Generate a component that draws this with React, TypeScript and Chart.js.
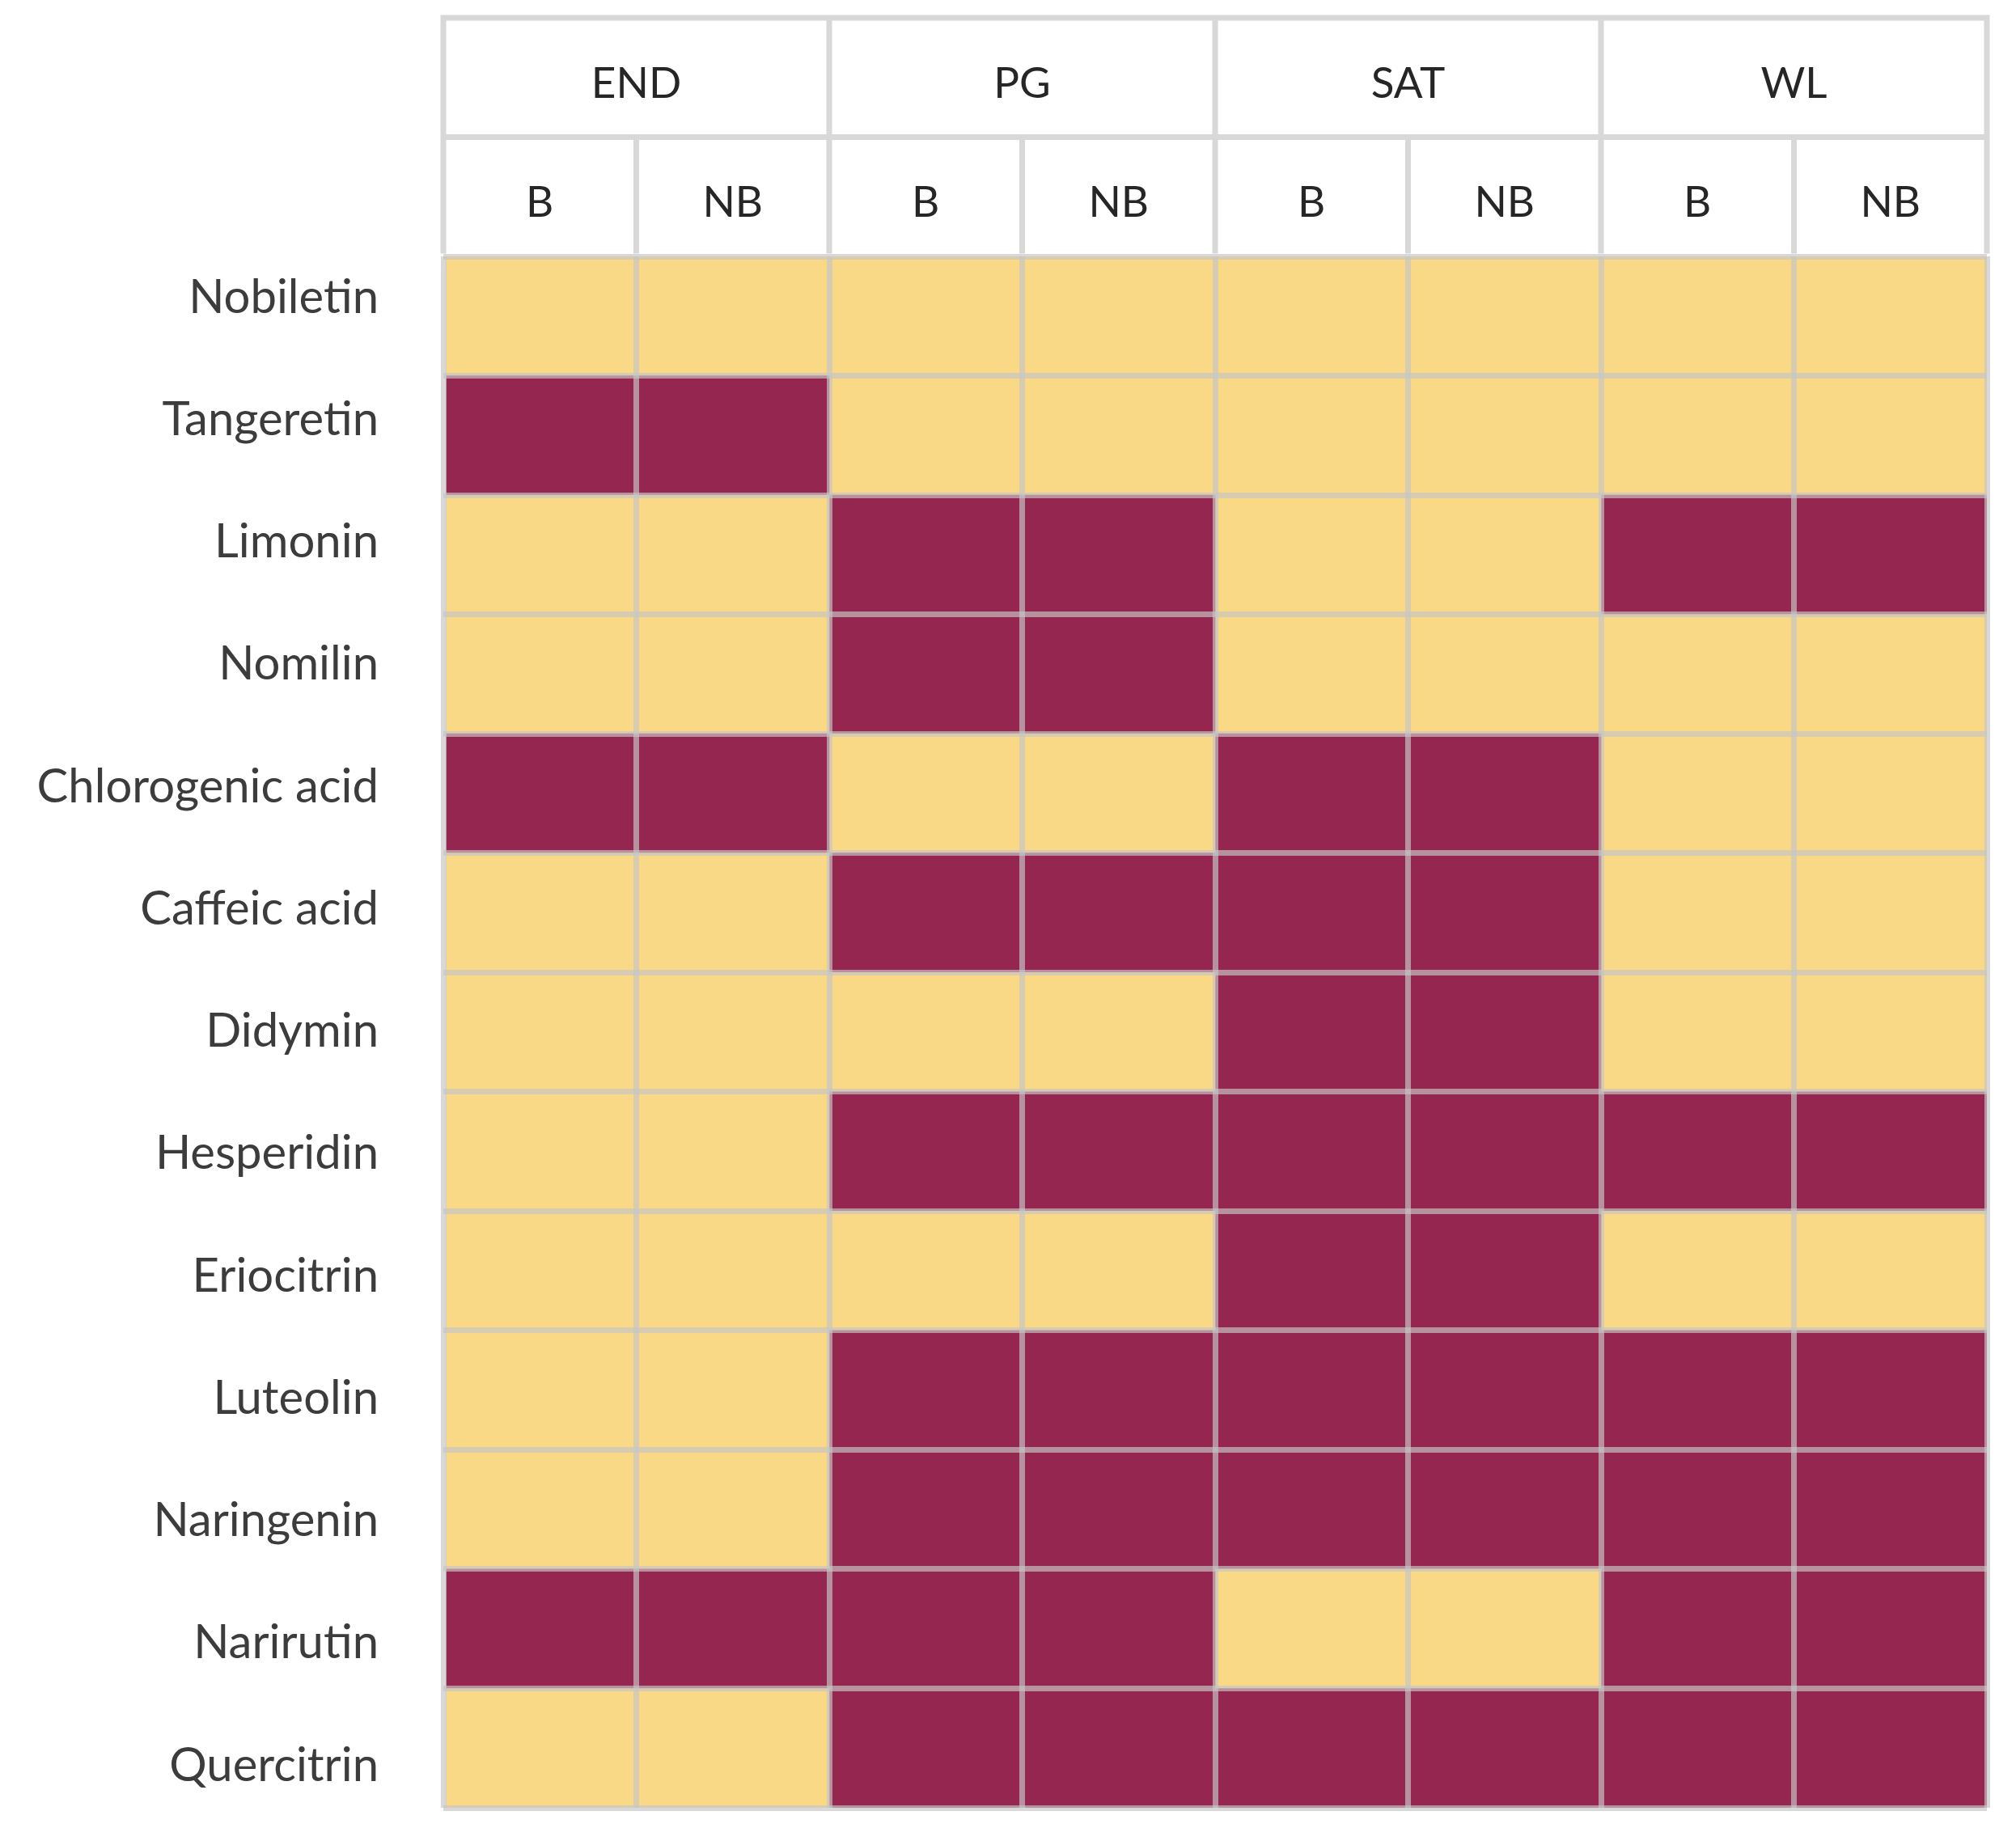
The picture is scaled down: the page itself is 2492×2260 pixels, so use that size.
import React, { useEffect, useRef } from "react";
import { Chart, registerables } from "chart.js";

Chart.register(...registerables);

// ---- data ----
const compounds = [
  "Nobiletin",
  "Tangeretin",
  "Limonin",
  "Nomilin",
  "Chlorogenic acid",
  "Caffeic acid",
  "Didymin",
  "Hesperidin",
  "Eriocitrin",
  "Luteolin",
  "Naringenin",
  "Narirutin",
  "Quercitrin",
];
const groups = ["END", "PG", "SAT", "WL"];
const subgroups = ["B", "NB"];

// 1 = present (dark cell), 0 = absent (light cell); one entry per compound
const END_B = [0, 1, 0, 0, 1, 0, 0, 0, 0, 0, 0, 1, 0];
const END_NB = [0, 1, 0, 0, 1, 0, 0, 0, 0, 0, 0, 1, 0];
const PG_B = [0, 0, 1, 1, 0, 1, 0, 1, 0, 1, 1, 1, 1];
const PG_NB = [0, 0, 1, 1, 0, 1, 0, 1, 0, 1, 1, 1, 1];
const SAT_B = [0, 0, 0, 0, 1, 1, 1, 1, 1, 1, 1, 0, 1];
const SAT_NB = [0, 0, 0, 0, 1, 1, 1, 1, 1, 1, 1, 0, 1];
const WL_B = [0, 0, 1, 0, 0, 0, 0, 1, 0, 1, 1, 1, 1];
const WL_NB = [0, 0, 1, 0, 0, 0, 0, 1, 0, 1, 1, 1, 1];

const columnValues = [END_B, END_NB, PG_B, PG_NB, SAT_B, SAT_NB, WL_B, WL_NB];

// ---- styles ----
const LIGHT = "#FAD986";
const DARK = "#95264F";
const GRID = "rgba(198,198,198,0.68)";
const GRID_W = 7;
const FONT = "Lato, 'Open Sans', sans-serif";
// label axis range (the row labels in the original sit on a slightly wider pitch than the cells)
const LABEL_AXIS_MIN = -0.337;
const LABEL_AXIS_MAX = 12.344;

const headerPlugin = {
  id: "matrixHeader",
  afterDraw(chart: any) {
    const { ctx, chartArea, scales } = chart;
    const x = scales.x;
    const rowH = (chartArea.bottom - chartArea.top) / compounds.length;
    const top = chartArea.top - 2 * rowH;
    const mid = chartArea.top - rowH;
    ctx.save();
    ctx.strokeStyle = GRID;
    ctx.lineWidth = GRID_W;
    ctx.beginPath();
    ctx.moveTo(chartArea.left - GRID_W / 2, top);
    ctx.lineTo(chartArea.right + GRID_W / 2, top);
    ctx.moveTo(chartArea.left - GRID_W / 2, mid);
    ctx.lineTo(chartArea.right + GRID_W / 2, mid);
    const nCols = groups.length * subgroups.length;
    for (let j = 0; j <= nCols; j++) {
      const px = x.getPixelForValue(j);
      const y0 = j % subgroups.length === 0 ? top - GRID_W / 2 : mid + GRID_W / 2;
      ctx.moveTo(px, y0);
      ctx.lineTo(px, chartArea.top - GRID_W / 2);
    }
    ctx.stroke();

    ctx.fillStyle = "#262626";
    ctx.font = `53px ${FONT}`;
    ctx.textAlign = "center";
    ctx.textBaseline = "middle";
    groups.forEach((g, gi) => {
      const cx = x.getPixelForValue(gi * subgroups.length + subgroups.length / 2);
      ctx.fillText(g, cx, top + rowH / 2 + 8);
    });
    groups.forEach((g, gi) => {
      subgroups.forEach((s, si) => {
        const cx = x.getPixelForValue(gi * subgroups.length + si + 0.5);
        ctx.fillText(s, cx, mid + rowH / 2 + 8);
      });
    });
    ctx.restore();
  },
};

export default function App() {
  const ref = useRef<HTMLCanvasElement | null>(null);

  useEffect(() => {
    if (!ref.current) return;
    const datasets = columnValues.map((vals, j) => ({
      label: `${groups[Math.floor(j / subgroups.length)]} ${subgroups[j % subgroups.length]}`,
      data: vals.map(() => 1),
      backgroundColor: vals.map((v) => (v ? DARK : LIGHT)),
      borderWidth: 0,
      barPercentage: 1,
      categoryPercentage: 1,
      xAxisID: "x",
      yAxisID: "y",
    }));

    const chart = new Chart(ref.current, {
      type: "bar",
      data: { labels: compounds, datasets },
      plugins: [headerPlugin],
      options: {
        indexAxis: "y",
        responsive: false,
        animation: false,
        devicePixelRatio: 1,
        layout: { padding: { left: 0, top: 317, right: 36, bottom: 25 } },
        plugins: { legend: { display: false }, tooltip: { enabled: false } },
        scales: {
          x: {
            type: "linear",
            stacked: true,
            min: 0,
            max: groups.length * subgroups.length,
            position: "bottom",
            ticks: { display: false, stepSize: 1 },
            grid: { color: GRID, lineWidth: GRID_W, drawTicks: false, z: 1 },
            border: { display: false },
            afterFit: (s: any) => {
              s.height = 0;
              s.paddingLeft = 0;
              s.paddingRight = 0;
            },
          },
          y: {
            type: "category",
            stacked: true,
            offset: true,
            position: "left",
            ticks: { display: false },
            grid: { color: GRID, lineWidth: GRID_W, drawTicks: false, offset: true, z: 1 },
            border: { display: false },
            afterFit: (s: any) => {
              s.width = 0;
              s.paddingTop = 0;
              s.paddingBottom = 0;
            },
          },
          yLabels: {
            type: "linear",
            axis: "y",
            position: "left",
            reverse: true,
            offset: false,
            bounds: "data",
            min: LABEL_AXIS_MIN,
            max: LABEL_AXIS_MAX,
            afterBuildTicks: (s: any) => {
              s.ticks = compounds.map((_, i) => ({ value: i }));
            },
            ticks: {
              color: "#3c3c3c",
              font: { family: FONT, size: 58 },
              padding: 80,
              autoSkip: false,
              callback: (v: any) => compounds[Math.round(Number(v))] ?? "",
            },
            grid: { display: false, drawTicks: false, offset: false },
            border: { display: false },
            afterFit: (s: any) => {
              s.width = 548;
              s.paddingTop = 0;
              s.paddingBottom = 0;
            },
          },
        },
      },
    } as any);
    return () => chart.destroy();
  }, []);

  return (
    <div style={{ position: "absolute", left: 0, top: 0, width: 2492, height: 2260, background: "#fff" }}>
      <canvas ref={ref} width={2492} height={2260} style={{ display: "block", width: 2492, height: 2260 }} />
    </div>
  );
}
